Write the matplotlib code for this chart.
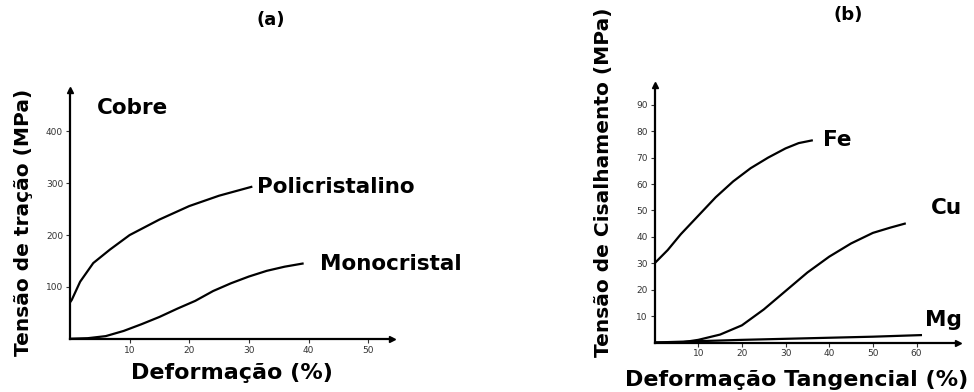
import numpy as np
import matplotlib.pyplot as plt

# Panel (a): copper, tensile stress vs strain
poli_x = [0, 0.3, 1.7, 3.9, 6.7, 10, 15, 20, 25, 30.4]
poli_y = [70, 75, 110, 146, 172, 200, 230, 256, 276, 293]
mono_x = [0, 3, 6, 9, 12, 15, 18, 21, 24, 27, 30, 33, 36, 39]
mono_y = [0, 1, 5, 15, 28, 42, 58, 73, 92, 107, 120, 131, 139, 145]
a_xticks = [10, 20, 30, 40, 50]
a_yticks = [100, 200, 300, 400]

# Panel (b): shear stress vs shear strain
fe_x = [0, 3, 6, 10, 14, 18, 22, 26, 30, 33, 36]
fe_y = [30, 35, 41, 48, 55, 61, 66, 70, 73.5, 75.5, 76.5]
cu_x = [0, 6, 10, 15, 20, 25, 30, 35, 40, 45, 50, 54, 57.3]
cu_y = [0, 0, 1, 3, 6.5, 12.5, 19.5, 26.5, 32.5, 37.5, 41.5, 43.5, 45]
mg_x = [0, 10, 20, 30, 40, 50, 61]
mg_y = [0, 0.5, 1, 1.4, 1.8, 2.2, 2.8]
b_xticks = [10, 20, 30, 40, 50, 60]
b_yticks = [10, 20, 30, 40, 50, 60, 70, 80, 90]

W, H = 974, 392
fig = plt.figure(figsize=(W / 100, H / 100), dpi=100)
fig.patch.set_facecolor('white')
bold = dict(fontweight='bold', family='DejaVu Sans', color='black')


def rect(x0, y0, x1, y1):
    # pixel box (left, axis-y, right, top) -> figure fraction
    return [x0 / W, (H - y0) / H, (x1 - x0) / W, (y0 - y1) / H]


def style(ax, xt, yt):
    for s in ['top', 'right']:
        ax.spines[s].set_visible(False)
    for s in ['left', 'bottom']:
        ax.spines[s].set_linewidth(1.6)
    ax.set_xticks(xt)
    ax.set_yticks(yt)
    ax.tick_params(length=3, width=0.8, labelsize=6.5, pad=2, colors='#333333')
    ax.plot(1, 0, '>k', transform=ax.transAxes, clip_on=False, markersize=4)
    ax.plot(0, 1, '^k', transform=ax.transAxes, clip_on=False, markersize=4)
    ax.set_facecolor('none')


ax1 = fig.add_axes(rect(70, 338.7, 392, 90))
ax1.set_xlim(0, 54)
ax1.set_ylim(0, 480)
style(ax1, a_xticks, a_yticks)
ax1.plot(poli_x, poli_y, color='black', lw=1.6)
ax1.plot(mono_x, mono_y, color='black', lw=1.6)
ax1.text(4.5, 445, 'Cobre', fontsize=15.5, va='center', **bold)
ax1.text(31.3, 293, 'Policristalino', fontsize=15.5, va='center', **bold)
ax1.text(42, 145, 'Monocristal', fontsize=15.5, va='center', **bold)

ax2 = fig.add_axes(rect(654.6, 342.5, 958, 85))
ax2.set_xlim(0, 69.5)
ax2.set_ylim(0, 97.5)
style(ax2, b_xticks, b_yticks)
ax2.plot(fe_x, fe_y, color='black', lw=1.6)
ax2.plot(cu_x, cu_y, color='black', lw=1.6)
ax2.plot(mg_x, mg_y, color='black', lw=1.6)
ax2.text(38.5, 76.5, 'Fe', fontsize=15.5, va='center', **bold)
ax2.text(63.2, 51, 'Cu', fontsize=15.5, va='center', **bold)
ax2.text(62, 8.5, 'Mg', fontsize=15.5, va='center', **bold)

fig.text(271 / W, 1 - 20 / H, '(a)', fontsize=13, ha='center', va='center', **bold)
fig.text(848 / W, 1 - 15 / H, '(b)', fontsize=13, ha='center', va='center', **bold)
fig.text(24 / W, 1 - 222 / H, 'Tensão de tração (MPa)', fontsize=14.5,
         rotation=90, ha='center', va='center', **bold)
fig.text(232 / W, 1 - 373 / H, 'Deformação (%)', fontsize=16,
         ha='center', va='center', **bold)
fig.text(603 / W, 1 - 182 / H, 'Tensão de Cisalhamento (MPa)', fontsize=14.5,
         rotation=90, ha='center', va='center', **bold)
fig.text(797 / W, 1 - 380 / H, 'Deformação Tangencial (%)', fontsize=16,
         ha='center', va='center', **bold)

fig.savefig('out.png', dpi=100, facecolor='white')
